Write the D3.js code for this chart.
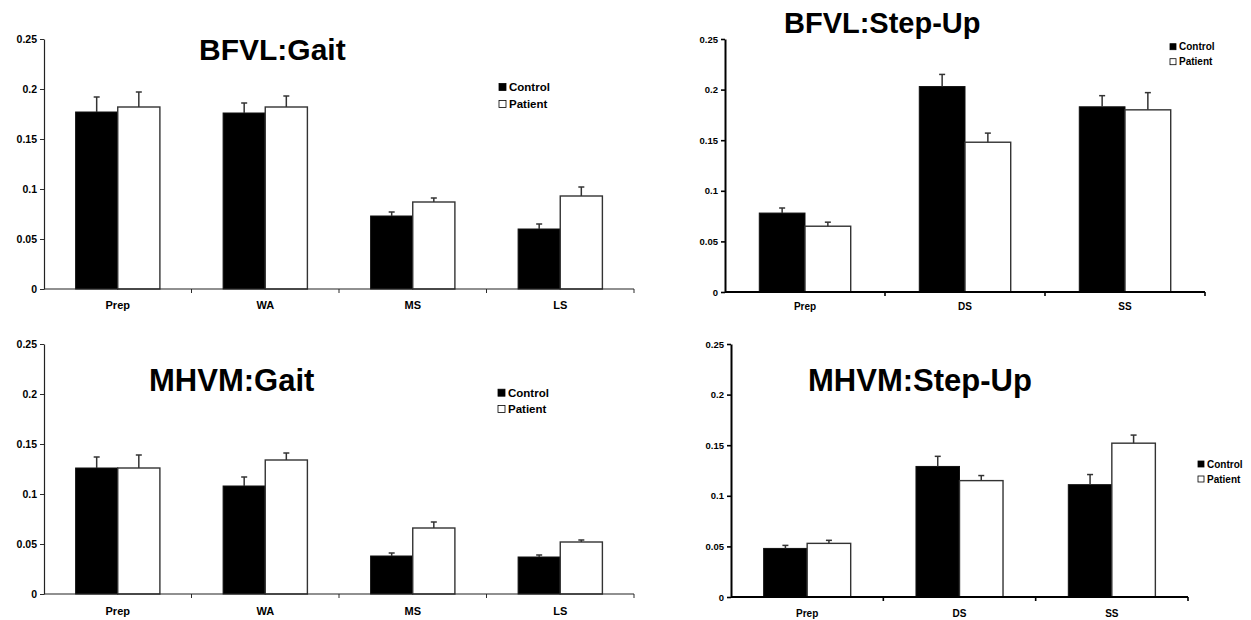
<!DOCTYPE html>
<html>
<head>
<meta charset="utf-8">
<script src="https://cdn.jsdelivr.net/npm/d3@7"></script>
<style>
  html, body { margin: 0; padding: 0; background: #fff; }
  svg { display: block; font-family: "Liberation Sans", Arial, sans-serif; }
</style>
</head>
<body>
<svg id="chart" width="1251" height="620"></svg>
<script>
// ---- Data ----
const gaitCategories = ["Prep", "WA", "MS", "LS"];
const stepCategories = ["Prep", "DS", "SS"];
const seriesNames = ["Control", "Patient"];
const yTickValues = [0, 0.05, 0.1, 0.15, 0.2, 0.25];
const yTickLabels = ["0", "0.05", "0.1", "0.15", "0.2", "0.25"];
const titles = ["BFVL:Gait", "BFVL:Step-Up", "MHVM:Gait", "MHVM:Step-Up"];

const bfvlGaitControl = [0.177, 0.176, 0.073, 0.060];
const bfvlGaitControlErr = [0.015, 0.010, 0.004, 0.005];
const bfvlGaitPatient = [0.182, 0.182, 0.087, 0.093];
const bfvlGaitPatientErr = [0.015, 0.011, 0.004, 0.009];

const bfvlStepControl = [0.078, 0.203, 0.183];
const bfvlStepControlErr = [0.005, 0.012, 0.011];
const bfvlStepPatient = [0.065, 0.148, 0.180];
const bfvlStepPatientErr = [0.004, 0.009, 0.017];

const mhvmGaitControl = [0.126, 0.108, 0.038, 0.037];
const mhvmGaitControlErr = [0.011, 0.009, 0.003, 0.002];
const mhvmGaitPatient = [0.126, 0.134, 0.066, 0.052];
const mhvmGaitPatientErr = [0.013, 0.007, 0.006, 0.002];

const mhvmStepControl = [0.048, 0.129, 0.111];
const mhvmStepControlErr = [0.003, 0.010, 0.010];
const mhvmStepPatient = [0.053, 0.115, 0.152];
const mhvmStepPatientErr = [0.003, 0.005, 0.008];

// ---- Layout (positions / styles only) ----
const panels = [
  { cats: gaitCategories, ctrl: bfvlGaitControl, ctrlErr: bfvlGaitControlErr, pat: bfvlGaitPatient, patErr: bfvlGaitPatientErr,
    x0: 44, x1: 634, yTop: 39, yBot: 289, axisW: 1.2, axisC: "#222", tickFont: 10.5, catFont: 11, catY: 309,
    title: { x: 199, y: 60, size: 30 }, legend: { x: 499, y: 87, dy: 17, size: 11.5, sq: 7 } },
  { cats: stepCategories, ctrl: bfvlStepControl, ctrlErr: bfvlStepControlErr, pat: bfvlStepPatient, patErr: bfvlStepPatientErr,
    x0: 725, x1: 1205, yTop: 39, yBot: 292, axisW: 2, axisC: "#000", tickFont: 9.5, catFont: 10, catY: 310,
    title: { x: 784, y: 33, size: 29 }, legend: { x: 1170, y: 46.7, dy: 15, size: 10, sq: 6 } },
  { cats: gaitCategories, ctrl: mhvmGaitControl, ctrlErr: mhvmGaitControlErr, pat: mhvmGaitPatient, patErr: mhvmGaitPatientErr,
    x0: 44, x1: 634, yTop: 344, yBot: 594, axisW: 1.2, axisC: "#222", tickFont: 10.5, catFont: 11, catY: 615,
    title: { x: 149, y: 391, size: 31 }, legend: { x: 498, y: 392.7, dy: 16.3, size: 11.5, sq: 7 } },
  { cats: stepCategories, ctrl: mhvmStepControl, ctrlErr: mhvmStepControlErr, pat: mhvmStepPatient, patErr: mhvmStepPatientErr,
    x0: 731, x1: 1188, yTop: 344, yBot: 597, axisW: 2, axisC: "#000", tickFont: 9.5, catFont: 10, catY: 617,
    title: { x: 808, y: 391, size: 31 }, legend: { x: 1198, y: 464, dy: 15, size: 10, sq: 6 } }
];

const svg = d3.select("#chart");

panels.forEach((p, i) => {
  const g = svg.append("g");
  const y = d3.scaleLinear().domain([0, 0.25]).range([p.yBot, p.yTop]);
  const x = d3.scaleBand().domain(p.cats).range([p.x0, p.x1]).paddingInner(1.5 / 3.5).paddingOuter(0.75 / 3.5);
  const xs = d3.scaleBand().domain(seriesNames).range([0, x.bandwidth()]);

  // bars
  const rows = p.cats.map((c, k) => ({ c,
    vals: [
      { s: "Control", v: p.ctrl[k], e: p.ctrlErr[k] },
      { s: "Patient", v: p.pat[k], e: p.patErr[k] }
    ] }));

  rows.forEach(r => {
    r.vals.forEach(d => {
      const bx = x(r.c) + xs(d.s);
      g.append("rect")
        .attr("x", bx).attr("y", y(d.v))
        .attr("width", xs.bandwidth()).attr("height", y(0) - y(d.v))
        .attr("fill", d.s === "Control" ? "#000" : "#fff")
        .attr("stroke", d.s === "Control" ? "#111" : "#333")
        .attr("stroke-width", d.s === "Control" ? 1 : 1.4);
      const cx = bx + xs.bandwidth() / 2;
      g.append("line").attr("x1", cx).attr("x2", cx).attr("y1", y(d.v)).attr("y2", y(d.v + d.e))
        .attr("stroke", "#333").attr("stroke-width", 1.5);
      g.append("line").attr("x1", cx - 3).attr("x2", cx + 3).attr("y1", y(d.v + d.e)).attr("y2", y(d.v + d.e))
        .attr("stroke", "#333").attr("stroke-width", 1.5);
    });
  });

  // y axis
  const yAxis = d3.axisLeft(y).tickValues(yTickValues).tickFormat((d, k) => yTickLabels[k]).tickSize(4).tickSizeOuter(0);
  const ya = g.append("g").attr("transform", `translate(${p.x0},0)`).call(yAxis);
  ya.select(".domain").attr("stroke", p.axisC).attr("stroke-width", p.axisW);
  ya.selectAll(".tick line").attr("stroke", p.axisC).attr("stroke-width", p.axisW * 0.8);
  ya.selectAll(".tick text").attr("font-size", p.tickFont).attr("font-weight", "bold")
    .attr("font-family", "'Liberation Sans', Arial, sans-serif").attr("fill", "#000").attr("x", -7);

  // x axis: line with ticks at category boundaries
  const xa = g.append("g");
  xa.append("line").attr("x1", p.x0).attr("x2", p.x1).attr("y1", p.yBot).attr("y2", p.yBot)
    .attr("stroke", p.axisC).attr("stroke-width", p.axisW);
  const step = x.step();
  const bounds = d3.range(1, p.cats.length + 1).map(k => p.x0 + k * step);
  xa.selectAll("line.tk").data(bounds).join("line").attr("class", "tk")
    .attr("x1", d => d).attr("x2", d => d).attr("y1", p.yBot).attr("y2", p.yBot + 4)
    .attr("stroke", p.axisC).attr("stroke-width", p.axisW * 0.8);
  xa.selectAll("text").data(p.cats).join("text")
    .attr("x", d => x(d) + x.bandwidth() / 2).attr("y", p.catY)
    .attr("text-anchor", "middle").attr("font-size", p.catFont).attr("font-weight", "bold").attr("fill", "#000")
    .text(d => d);

  // title
  g.append("text").attr("x", p.title.x).attr("y", p.title.y)
    .attr("font-size", p.title.size).attr("font-weight", "bold").attr("fill", "#000")
    .text(titles[i]);

  // legend
  seriesNames.forEach((s, k) => {
    const ly = p.legend.y + k * p.legend.dy;
    g.append("rect").attr("x", p.legend.x).attr("y", ly - p.legend.sq / 2)
      .attr("width", p.legend.sq).attr("height", p.legend.sq)
      .attr("fill", k === 0 ? "#000" : "#fff").attr("stroke", "#000").attr("stroke-width", 0.8);
    g.append("text").attr("x", p.legend.x + p.legend.sq + 3).attr("y", ly)
      .attr("dy", "0.36em").attr("font-size", p.legend.size).attr("font-weight", "bold").attr("fill", "#000")
      .text(s);
  });
});
</script>
</body>
</html>
